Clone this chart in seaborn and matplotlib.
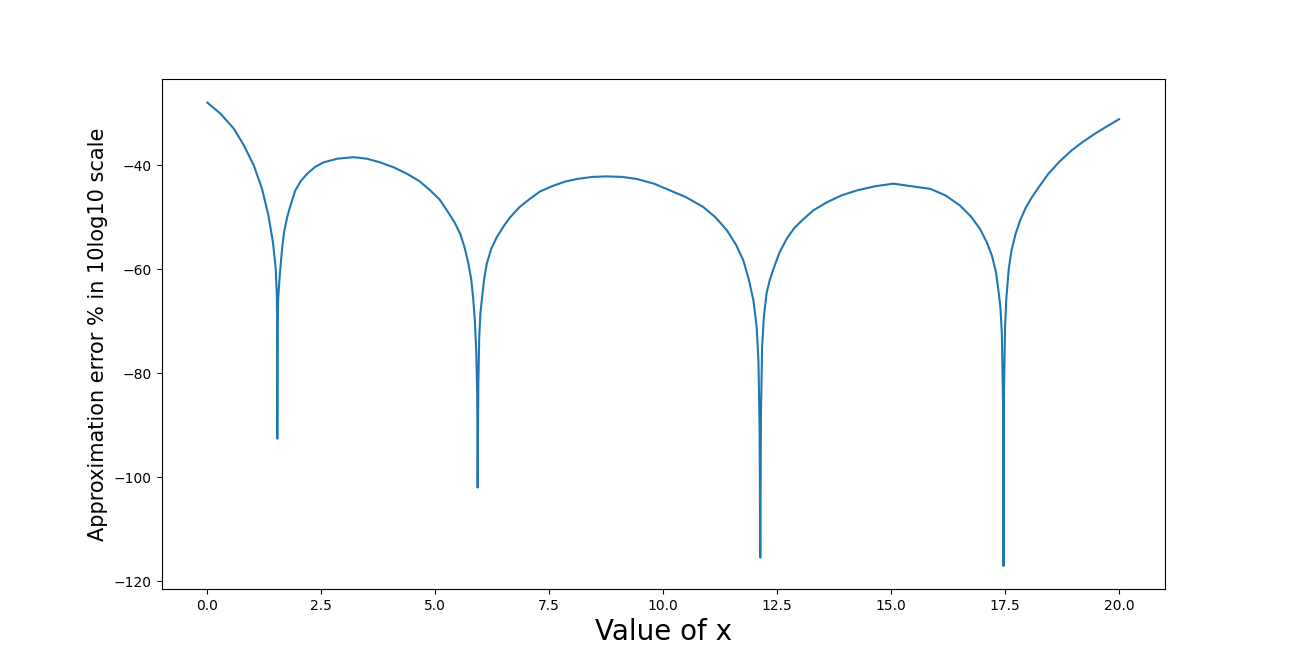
import matplotlib
matplotlib.use("Agg")
import matplotlib.pyplot as plt
import seaborn as sns
import pandas as pd

# Values
x_values = [
    0.00, 0.285, 0.58, 0.80, 1.02, 1.20, 1.34, 1.44, 1.50, 1.525, 1.532, 1.535, 1.540, 1.555,
    1.59, 1.64, 1.68, 1.75, 1.82, 1.93, 2.05, 2.19, 2.36, 2.55, 2.85, 3.21, 3.50, 3.79, 4.10,
    4.38, 4.65, 4.89, 5.10, 5.26, 5.42, 5.55, 5.65, 5.73, 5.79, 5.83, 5.87, 5.90, 5.92, 5.93,
    5.945, 5.965, 5.99, 6.02, 6.07, 6.13, 6.23, 6.35, 6.50, 6.64, 6.85, 7.08, 7.30, 7.59, 7.85,
    8.11, 8.45, 8.77, 9.10, 9.42, 9.80, 10.15, 10.50, 10.88, 11.15, 11.40, 11.60, 11.76, 11.88,
    11.98, 12.05, 12.09, 12.115, 12.13, 12.145, 12.17, 12.21, 12.27, 12.34, 12.42, 12.55, 12.71,
    12.88, 13.08, 13.30, 13.59, 13.90, 14.25, 14.65, 15.05, 15.45, 15.86, 16.20, 16.51, 16.75,
    16.95, 17.10, 17.21, 17.30, 17.36, 17.40, 17.43, 17.455, 17.465, 17.475, 17.50, 17.53,
    17.58, 17.64, 17.73, 17.83, 17.95, 18.09, 18.27, 18.45, 18.70, 18.96, 19.20, 19.47, 19.73,
    20.00,
]
y_values = [
    -27.9, -30.0, -32.9, -36.1, -40.0, -44.5, -49.6, -54.8, -59.9, -65.0, -72.0, -92.6, -72.0, -65.5,
    -61.0, -56.0, -53.0, -50.0, -47.8, -44.8, -43.0, -41.6, -40.3, -39.4, -38.7, -38.4, -38.7, -39.4, -40.4,
    -41.6, -43.0, -44.8, -46.6, -48.7, -50.9, -53.2, -56.0, -59.0, -62.0, -65.4, -70.0, -76.0, -84.0, -102.0,
    -82.0, -73.0, -68.5, -66.0, -62.0, -58.9, -56.0, -53.8, -51.7, -50.0, -48.0, -46.4, -45.0, -43.9, -43.1,
    -42.6, -42.2, -42.1, -42.2, -42.6, -43.5, -44.8, -46.1, -48.0, -50.0, -52.5, -55.3, -58.3, -62.0,
    -66.0, -71.0, -77.6, -90.4, -115.5, -88.0, -75.0, -69.0, -64.5, -62.0, -59.9, -56.8, -54.1,
    -52.0, -50.3, -48.6, -47.1, -45.8, -44.8, -44.0, -43.5, -44.0, -44.5, -45.8, -47.7, -49.8,
    -52.2, -54.8, -57.3, -60.5, -64.4, -67.5, -72.4, -85.3, -117.1, -85.0, -71.0, -65.4,
    -60.0, -56.4, -53.2, -50.6, -48.2, -46.1, -43.8, -41.6, -39.2, -37.1, -35.5, -33.9, -32.5,
    -31.1,
]

df = pd.DataFrame({"x": x_values, "y": y_values})

fig, ax = plt.subplots(figsize=(12.94, 6.62), dpi=100)
sns.lineplot(data=df, x="x", y="y", ax=ax, color="#1f77b4", linewidth=1.5, sort=False)
ax.set_xlabel("Value of x", fontsize=20)
ax.set_ylabel("Approximation error % in 10log10 scale", fontsize=15)
fig.savefig("out.png", dpi=100)
